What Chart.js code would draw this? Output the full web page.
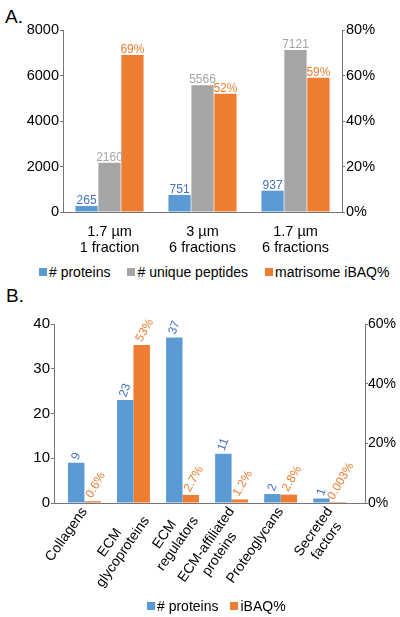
<!DOCTYPE html>
<html><head><meta charset="utf-8">
<script src="https://cdn.jsdelivr.net/npm/chart.js@4.4.0/dist/chart.umd.min.js"></script>
<style>
html,body{margin:0;padding:0;background:#fff;}
#wrap{position:relative;width:400px;height:617px;overflow:hidden;font-family:"Liberation Sans",Arial,sans-serif;background:#fff;}
.letter{position:absolute;font-size:19px;line-height:19px;color:#000;}
canvas{position:absolute;left:0;}
.legend{position:absolute;display:flex;align-items:center;font-size:14px;line-height:16px;color:#000;white-space:nowrap;}
.legend .item{display:flex;align-items:center;}
.legend .box{width:8px;height:8px;margin-right:2px;}
</style></head>
<body><div id="wrap">
<div class="letter" style="left:5px;top:7px">A.</div>
<canvas id="chartA" width="400" height="252" style="top:0"></canvas>
<div id="legendA" class="legend" style="left:39px;top:264px;gap:17px"></div>
<div class="letter" style="left:6px;top:286px">B.</div>
<canvas id="chartB" width="400" height="300" style="top:300px"></canvas>
<div id="legendB" class="legend" style="left:147px;top:598px;gap:12px"></div>
</div>
<script>
// ---------- Data: panel A ----------
const categoriesA = [['1.7 µm', '1 fraction'], ['3 µm', '6 fractions'], ['1.7 µm', '6 fractions']];
const seriesNamesA = ['# proteins', '# unique peptides', 'matrisome iBAQ%'];
const proteinsA = [265, 751, 937];
const peptidesA = [2160, 5566, 7121];
const ibaqA = [69, 52, 59];
const leftTicksA = [0, 2000, 4000, 6000, 8000];
const rightTicksA = [0, 20, 40, 60, 80];

// ---------- Data: panel B ----------
const categoriesB = [['Collagens'], ['ECM', 'glycoproteins'], ['ECM', 'regulators'], ['ECM-affiliated', 'proteins'], ['Proteoglycans'], ['Secreted', 'factors']];
const seriesNamesB = ['# proteins', 'iBAQ%'];
const proteinsB = [9, 23, 37, 11, 2, 1];
const ibaqB = [0.6, 53, 2.7, 1.2, 2.8, 0.003];
const leftTicksB = [0, 10, 20, 30, 40];
const rightTicksB = [0, 20, 40, 60];

// ---------- Styles ----------
const BLUE = '#5b9bd5', GRAY = '#a5a5a5', ORANGE = '#ed7d31';
const BLUE_TXT = '#4472c4', GRAY_TXT = '#a5a5a5', ORANGE_TXT = '#ed7d31';
const AXIS = '#767676';
const FONT = 'Liberation Sans';

const valueLabels = {
  id: 'valueLabels',
  afterDatasetsDraw(chart) {
    const ctx = chart.ctx;
    chart.data.datasets.forEach((ds, di) => {
      const meta = chart.getDatasetMeta(di);
      const st = ds.valueStyle;
      if (!st) return;
      ctx.save();
      ctx.font = st.size + 'px "' + FONT + '"';
      ctx.fillStyle = st.color;
      meta.data.forEach((bar, i) => {
        const raw = ds.data[i];
        const v = (typeof raw === 'object') ? raw.y : raw;
        const text = v + st.suffix;
        if (!st.angle) {
          ctx.textAlign = 'center';
          ctx.textBaseline = 'alphabetic';
          ctx.fillText(text, bar.x, bar.y - 2);
        } else {
          const th = st.angle * Math.PI / 180;
          const w = ctx.measureText(text).width;
          const h = 0.72 * st.size;
          const ext = w * Math.sin(th) + h * Math.cos(th);
          ctx.save();
          ctx.translate(bar.x + (st.dx || 0), bar.y - 2 - ext / 2);
          ctx.rotate(-th);
          ctx.textAlign = 'center';
          ctx.textBaseline = 'middle';
          ctx.fillText(text, 0, 0);
          ctx.restore();
        }
      });
      ctx.restore();
    });
  }
};

function tickAxis(side, ticks, size, suffix, width, pad) {
  return {
    position: side,
    min: ticks[0], max: ticks[ticks.length - 1],
    ticks: { stepSize: ticks[1] - ticks[0], color: '#000', padding: pad,
      font: { family: FONT, size: size },
      callback: v => v + suffix },
    grid: { display: true, drawOnChartArea: false, drawTicks: true, tickLength: 3, color: AXIS, lineWidth: 1 },
    border: { display: true, color: AXIS, width: 1 },
    afterFit(s) { s.width = width; }
  };
}

// ---------- Chart A ----------
new Chart(document.getElementById('chartA'), {
  type: 'bar',
  data: {
    labels: categoriesA,
    datasets: [
      { label: seriesNamesA[0], data: proteinsA, backgroundColor: BLUE, yAxisID: 'y',
        valueStyle: { color: BLUE_TXT, size: 12, suffix: '' } },
      { label: seriesNamesA[1], data: peptidesA, backgroundColor: GRAY, yAxisID: 'y',
        valueStyle: { color: GRAY_TXT, size: 12, suffix: '' } },
      { label: seriesNamesA[2], data: ibaqA, backgroundColor: ORANGE, yAxisID: 'y1',
        valueStyle: { color: ORANGE_TXT, size: 12, suffix: '%' } }
    ]
  },
  options: {
    responsive: false, animation: false, devicePixelRatio: 1,
    layout: { padding: { top: 30, left: 0, right: 0, bottom: 0 } },
    datasets: { bar: { categoryPercentage: 0.74, barPercentage: 0.97 } },
    plugins: { legend: { display: false }, tooltip: { enabled: false } },
    scales: {
      x: {
        grid: { display: false },
        border: { display: true, color: AXIS, width: 1 },
        ticks: { color: '#000', font: { family: FONT, size: 14.5, lineHeight: 1.1 }, maxRotation: 0, autoSkip: false, padding: 4 },
        afterFit(s) { s.height = 40; }
      },
      y: tickAxis('left', leftTicksA, 14.5, '', 63, 1),
      y1: tickAxis('right', rightTicksA, 14.5, '%', 58, 1)
    }
  },
  plugins: [valueLabels]
});

// ---------- Chart B ----------
const rotatedCatLabels = {
  id: 'rotatedCatLabels',
  afterDraw(chart) {
    const xs = chart.scales.x, ctx = chart.ctx;
    const th = 55 * Math.PI / 180, lh = 16;
    ctx.save();
    ctx.font = '14px "' + FONT + '"';
    ctx.fillStyle = '#000';
    ctx.textAlign = 'center';
    ctx.textBaseline = 'middle';
    categoriesB.forEach((lines, i) => {
      const px = xs.getPixelForValue(i);
      const W = Math.max(...lines.map(l => ctx.measureText(l).width));
      ctx.save();
      ctx.translate(px, xs.top + 6);
      ctx.rotate(-th);
      lines.forEach((l, k) => ctx.fillText(l, -W / 2, k * lh));
      ctx.restore();
    });
    ctx.restore();
  }
};

new Chart(document.getElementById('chartB'), {
  type: 'bar',
  data: {
    datasets: [
      { label: seriesNamesB[0], data: proteinsB.map((v, i) => ({ x: i, y: v })), backgroundColor: BLUE, yAxisID: 'y',
        valueStyle: { color: BLUE_TXT, size: 12, suffix: '', angle: 70 } },
      { label: seriesNamesB[1], data: ibaqB.map((v, i) => ({ x: i, y: v })), backgroundColor: ORANGE, yAxisID: 'y1',
        valueStyle: { color: ORANGE_TXT, size: 12, suffix: '%', angle: 60, dx: 3 } }
    ]
  },
  options: {
    responsive: false, animation: false, devicePixelRatio: 1,
    layout: { padding: { top: 24, left: 0, right: 0, bottom: 0 } },
    datasets: { bar: { categoryPercentage: 0.67, barPercentage: 1.0 } },
    plugins: { legend: { display: false }, tooltip: { enabled: false } },
    scales: {
      x: {
        type: 'linear', min: -0.62, max: 5.72, offset: false,
        grid: { display: false },
        border: { display: true, color: AXIS, width: 1 },
        ticks: { display: false },
        afterFit(s) { s.height = 97; }
      },
      y: tickAxis('left', leftTicksB, 15, '', 54, 1),
      y1: tickAxis('right', rightTicksB, 14, '%', 35, 0)
    }
  },
  plugins: [valueLabels, rotatedCatLabels]
});

// ---------- HTML legends ----------
function buildLegend(id, names, colors) {
  const el = document.getElementById(id);
  names.forEach((n, i) => {
    const it = document.createElement('div'); it.className = 'item';
    const b = document.createElement('span'); b.className = 'box'; b.style.background = colors[i];
    const t = document.createElement('span'); t.textContent = n;
    it.appendChild(b); it.appendChild(t); el.appendChild(it);
  });
}
buildLegend('legendA', seriesNamesA, [BLUE, GRAY, ORANGE]);
buildLegend('legendB', seriesNamesB, [BLUE, ORANGE]);
</script>
</body></html>
